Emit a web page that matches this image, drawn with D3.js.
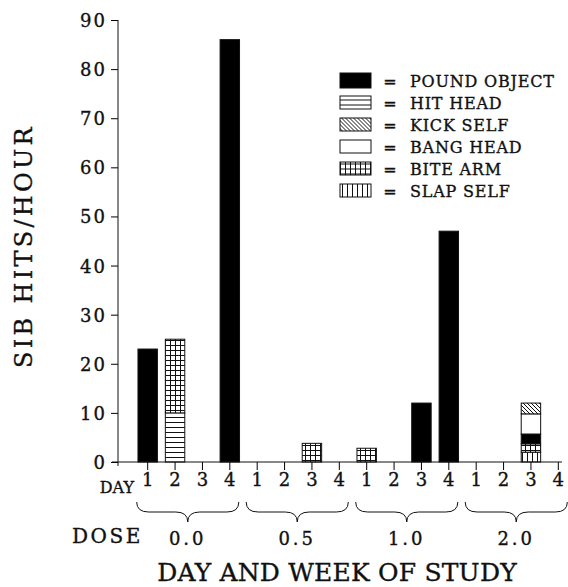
<!DOCTYPE html>
<html>
<head>
<meta charset="utf-8">
<script src="https://cdn.jsdelivr.net/npm/d3@7"></script>
<style>
  body { margin: 0; background: #fff; }
  text { font-family: "DejaVu Serif", serif; fill: #111; stroke: #111; stroke-width: 0.35px; }
</style>
</head>
<body>
<div id="chart"></div>
<script>
// days within each dose week, 16 slots in all
var days = ["1", "2", "3", "4", "1", "2", "3", "4", "1", "2", "3", "4", "1", "2", "3", "4"];
var doses = ["0.0", "0.5", "1.0", "2.0"];
var yTicks = [0, 10, 20, 30, 40, 50, 60, 70, 80, 90];

// SIB hits/hour per slot, by topography
var poundObject = [23, 0, 0, 86, 0, 0, 0, 0, 0, 0, 12, 47, 0, 0, 2, 0];
var hitHead     = [0, 10, 0, 0, 0, 0, 0, 0, 0, 0, 0, 0, 0, 0, 0, 0];
var kickSelf    = [0, 0, 0, 0, 0, 0, 0, 0, 0, 0, 0, 0, 0, 0, 2.2, 0];
var bangHead    = [0, 0, 0, 0, 0, 0, 0, 0, 0, 0, 0, 0, 0, 0, 4.1, 0];
var biteArm     = [0, 15, 0, 0, 0, 0, 3.8, 0, 2.8, 0, 0, 0, 0, 0, 1.7, 0];
var slapSelf    = [0, 0, 0, 0, 0, 0, 0, 0, 0, 0, 0, 0, 0, 0, 2, 0];

var legendNames = ["POUND OBJECT", "HIT HEAD", "KICK SELF", "BANG HEAD", "BITE ARM", "SLAP SELF"];
var legendFill = ["#000", "url(#hhead)", "url(#kick)", "#fff", "url(#bite)", "url(#slap)"];

var series = {
  "POUND OBJECT": poundObject, "HIT HEAD": hitHead, "KICK SELF": kickSelf,
  "BANG HEAD": bangHead, "BITE ARM": biteArm, "SLAP SELF": slapSelf
};
var stackOrder = ["SLAP SELF", "HIT HEAD", "BITE ARM", "POUND OBJECT", "BANG HEAD", "KICK SELF"];

var width = 568, height = 587;

var svg = d3.select("#chart").append("svg")
    .attr("width", width)
    .attr("height", height);

var defs = svg.append("defs");
function pattern(id, w, h, d) {
  var p = defs.append("pattern").attr("id", id)
      .attr("patternUnits", "userSpaceOnUse")
      .attr("width", w).attr("height", h);
  p.append("rect").attr("width", w).attr("height", h).attr("fill", "#fff");
  p.append("path").attr("d", d).attr("stroke", "#111").attr("stroke-width", 1).attr("fill", "none");
}
pattern("hhead", 6, 5, "M0,2.5H6");
pattern("kick", 4, 4, "M0,0L4,4M-1,3L1,5M3,-1L5,1");
pattern("bite", 5, 5, "M0.5,0V5M0,0.5H5");
pattern("slap", 5, 5, "M2.5,0V5");

var x = d3.scaleBand().domain(d3.range(16)).range([134, 572])
    .paddingInner(0.29).paddingOuter(0.145);
var y = d3.scaleLinear().domain([0, 90]).range([462, 20]);

// y axis
var gy = svg.append("g")
    .attr("transform", "translate(118,0)")
    .call(d3.axisLeft(y).tickValues(yTicks).tickSize(7).tickSizeOuter(0).tickPadding(4));
gy.select(".domain").remove();
gy.selectAll("text").style("font-size", "18px").style("letter-spacing", "2px")
    .attr("font-family", null).attr("dy", "0.36em");
svg.append("line").attr("x1", 118).attr("x2", 118)
    .attr("y1", y(90)).attr("y2", y(0) + 4).attr("stroke", "#111");

svg.append("text")
    .attr("transform", "translate(32," + ((y(90) + y(0)) / 2 + 5) + ") rotate(-90)")
    .attr("text-anchor", "middle")
    .style("font-size", "24px").style("letter-spacing", "3.3px")
    .text("SIB HITS/HOUR");

// stacked bars
var stacked = d3.stack().keys(stackOrder).value(function(d, k) { return series[k][d]; })(d3.range(16));

svg.selectAll(".layer")
    .data(stacked)
    .enter().append("g")
    .attr("class", "layer")
    .attr("fill", function(d) { return legendFill[legendNames.indexOf(d.key)]; })
  .selectAll("rect")
    .data(function(d) { return d.filter(function(s) { return s[1] - s[0] > 0; }); })
    .enter().append("rect")
    .attr("x", function(d) { return x(d.data); })
    .attr("y", function(d) { return y(d[1]); })
    .attr("width", x.bandwidth())
    .attr("height", function(d) { return y(d[0]) - y(d[1]); })
    .attr("stroke", "#111")
    .attr("stroke-width", 1);

// x axis
var gx = svg.append("g")
    .attr("transform", "translate(0," + y(0) + ")")
    .call(d3.axisBottom(x).tickSize(8).tickSizeOuter(0).tickPadding(3)
      .tickFormat(function(i) { return days[i]; }));
gx.select(".domain").remove();
gx.selectAll("text").style("font-size", "18px").attr("font-family", null);
svg.append("line").attr("x1", 112).attr("x2", 562)
    .attr("y1", y(0)).attr("y2", y(0)).attr("stroke", "#111");

svg.append("text").attr("x", 134).attr("y", 493).attr("text-anchor", "end")
    .style("font-size", "16px").text("DAY");

// braces under each dose week
function brace(x0, x1, yTop, yBot) {
  var cx = (x0 + x1) / 2, ym = (yTop + yBot) / 2;
  return "M" + x0 + "," + yTop +
    "Q" + x0 + "," + ym + " " + (x0 + 12) + "," + ym +
    "L" + (cx - 12) + "," + ym +
    "Q" + cx + "," + ym + " " + cx + "," + yBot +
    "Q" + cx + "," + ym + " " + (cx + 12) + "," + ym +
    "L" + (x1 - 12) + "," + ym +
    "Q" + x1 + "," + ym + " " + x1 + "," + yTop;
}

var groups = svg.selectAll(".dose")
    .data(doses)
    .enter().append("g")
    .attr("class", "dose");
groups.append("path")
    .attr("d", function(d, i) {
      var x0 = x(i * 4) + x.bandwidth() / 2 - 11,
          x1 = x(i * 4 + 3) + x.bandwidth() / 2 + 9;
      return brace(x0, x1, 502, 522);
    })
    .attr("fill", "none").attr("stroke", "#111").attr("stroke-width", 1);
groups.append("text")
    .attr("x", function(d, i) { return (x(i * 4) + x(i * 4 + 3) + x.bandwidth()) / 2 - 1; })
    .attr("y", 545)
    .attr("text-anchor", "middle")
    .style("font-size", "18px").style("letter-spacing", "3px")
    .text(function(d) { return d; });

svg.append("text").attr("x", 72).attr("y", 543)
    .style("font-size", "20px").style("letter-spacing", "2.5px").text("DOSE");

svg.append("text").attr("x", 337).attr("y", 581).attr("text-anchor", "middle")
    .style("font-size", "25px").style("letter-spacing", "0.2px")
    .text("DAY AND WEEK OF STUDY");

// legend
var legend = svg.selectAll(".legend")
    .data(legendNames)
    .enter().append("g")
    .attr("class", "legend")
    .attr("transform", function(d, i) { return "translate(340," + (80.5 + i * 22) + ")"; });
legend.append("rect")
    .attr("x", 0).attr("y", function(d, i) { return i === 0 ? -7.5 : -6.5; })
    .attr("width", 31).attr("height", function(d, i) { return i === 0 ? 15 : 13; })
    .attr("fill", function(d, i) { return legendFill[i]; })
    .attr("stroke", "#111");
legend.append("text").attr("x", 50).attr("y", 6)
    .attr("text-anchor", "middle").style("font-size", "16px").text("=");
legend.append("text").attr("x", 70).attr("y", 6)
    .style("font-size", "16px").style("letter-spacing", "0.8px")
    .text(function(d) { return d; });
</script>
</body>
</html>
